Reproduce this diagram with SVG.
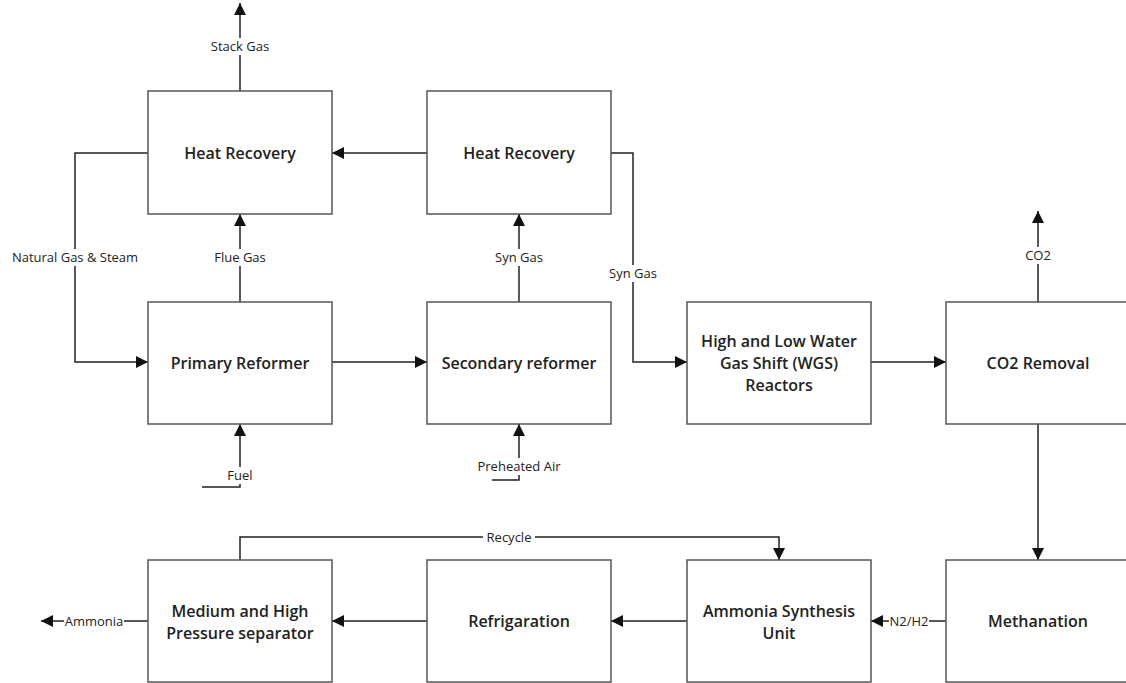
<svg xmlns="http://www.w3.org/2000/svg" width="1126" height="683" viewBox="0 0 1126 683">
<style>
.box{fill:#fff;stroke:#555;stroke-width:1.5}
.t{font-family:"Open Sans","Liberation Sans",sans-serif;font-weight:600;font-size:16px;fill:#222;text-anchor:middle;dominant-baseline:central}
.c{fill:none;stroke:#222;stroke-width:1.5}
.bg{fill:#fff}
.l{font-family:"Open Sans","Liberation Sans",sans-serif;font-size:13px;fill:#222;text-anchor:middle;dominant-baseline:central}
</style>
<defs>
<marker id="ah" viewBox="0 0 10 10" refX="10" refY="5" markerWidth="12" markerHeight="12" markerUnits="userSpaceOnUse" orient="auto">
<path d="M0,0 L10,5 L0,10 z" fill="#111"/>
</marker>
</defs>
<rect width="1126" height="683" fill="#fff"/>
<g id="connectors">
<path class="c" d="M240,91 V3" marker-end="url(#ah)"/>
<path class="c" d="M427,153 H332" marker-end="url(#ah)"/>
<path class="c" d="M148,153 H75 V362 H148" marker-end="url(#ah)"/>
<path class="c" d="M240,302 V214" marker-end="url(#ah)"/>
<path class="c" d="M519,302 V214" marker-end="url(#ah)"/>
<path class="c" d="M611,153 H633 V362 H687" marker-end="url(#ah)"/>
<path class="c" d="M332,362 H427" marker-end="url(#ah)"/>
<path class="c" d="M871,362 H946" marker-end="url(#ah)"/>
<path class="c" d="M1038,302 V211" marker-end="url(#ah)"/>
<path class="c" d="M1038,424 V560" marker-end="url(#ah)"/>
<path class="c" d="M202,487 H240 V424" marker-end="url(#ah)"/>
<path class="c" d="M492,480 H519 V424" marker-end="url(#ah)"/>
<path class="c" d="M946,621 H871" marker-end="url(#ah)"/>
<path class="c" d="M687,621 H611" marker-end="url(#ah)"/>
<path class="c" d="M427,621 H332" marker-end="url(#ah)"/>
<path class="c" d="M148,621 H41" marker-end="url(#ah)"/>
<path class="c" d="M240,560 V537 H779 V560" marker-end="url(#ah)"/>
<rect class="bg" x="206" y="38" width="68" height="17"/>
<rect class="bg" x="8" y="249" width="134" height="17"/>
<rect class="bg" x="211" y="249" width="58" height="17"/>
<rect class="bg" x="491" y="249" width="56" height="17"/>
<rect class="bg" x="605" y="265" width="56" height="17"/>
<rect class="bg" x="1022" y="247" width="32" height="17"/>
<rect class="bg" x="225" y="467" width="30" height="17"/>
<rect class="bg" x="474" y="458" width="90" height="17"/>
<rect class="bg" x="483" y="529" width="52" height="17"/>
<rect class="bg" x="889" y="613" width="40" height="17"/>
<rect class="bg" x="64" y="613" width="60" height="17"/>
<text class="l" x="240" y="46">Stack Gas</text>
<text class="l" x="75" y="257">Natural Gas &amp; Steam</text>
<text class="l" x="240" y="257">Flue Gas</text>
<text class="l" x="519" y="257">Syn Gas</text>
<text class="l" x="633" y="273">Syn Gas</text>
<text class="l" x="1038" y="255">CO2</text>
<text class="l" x="240" y="475">Fuel</text>
<text class="l" x="519" y="466">Preheated Air</text>
<text class="l" x="509" y="537">Recycle</text>
<text class="l" x="909" y="621">N2/H2</text>
<text class="l" x="94" y="621">Ammonia</text>
</g>
<g id="heat-recovery-1"><rect class="box" x="148" y="91" width="184" height="123"/><text class="t" x="240" y="153">Heat Recovery</text></g>
<g id="heat-recovery-2"><rect class="box" x="427" y="91" width="184" height="123"/><text class="t" x="519" y="153">Heat Recovery</text></g>
<g id="primary-reformer"><rect class="box" x="148" y="302" width="184" height="122"/><text class="t" x="240" y="363">Primary Reformer</text></g>
<g id="secondary-reformer"><rect class="box" x="427" y="302" width="184" height="122"/><text class="t" x="519" y="363">Secondary reformer</text></g>
<g id="wgs"><rect class="box" x="687" y="302" width="184" height="122"/><text class="t" x="779" y="341">High and Low Water</text><text class="t" x="779" y="363">Gas Shift (WGS)</text><text class="t" x="779" y="385">Reactors</text></g>
<g id="co2-removal"><rect class="box" x="946" y="302" width="184" height="122"/><text class="t" x="1038" y="363">CO2 Removal</text></g>
<g id="separator"><rect class="box" x="148" y="560" width="184" height="122"/><text class="t" x="240" y="611">Medium and High</text><text class="t" x="240" y="633">Pressure separator</text></g>
<g id="refrigaration"><rect class="box" x="427" y="560" width="184" height="122"/><text class="t" x="519" y="621">Refrigaration</text></g>
<g id="ammonia-synthesis"><rect class="box" x="687" y="560" width="184" height="122"/><text class="t" x="779" y="611">Ammonia Synthesis</text><text class="t" x="779" y="633">Unit</text></g>
<g id="methanation"><rect class="box" x="946" y="560" width="184" height="122"/><text class="t" x="1038" y="621">Methanation</text></g>
</svg>
